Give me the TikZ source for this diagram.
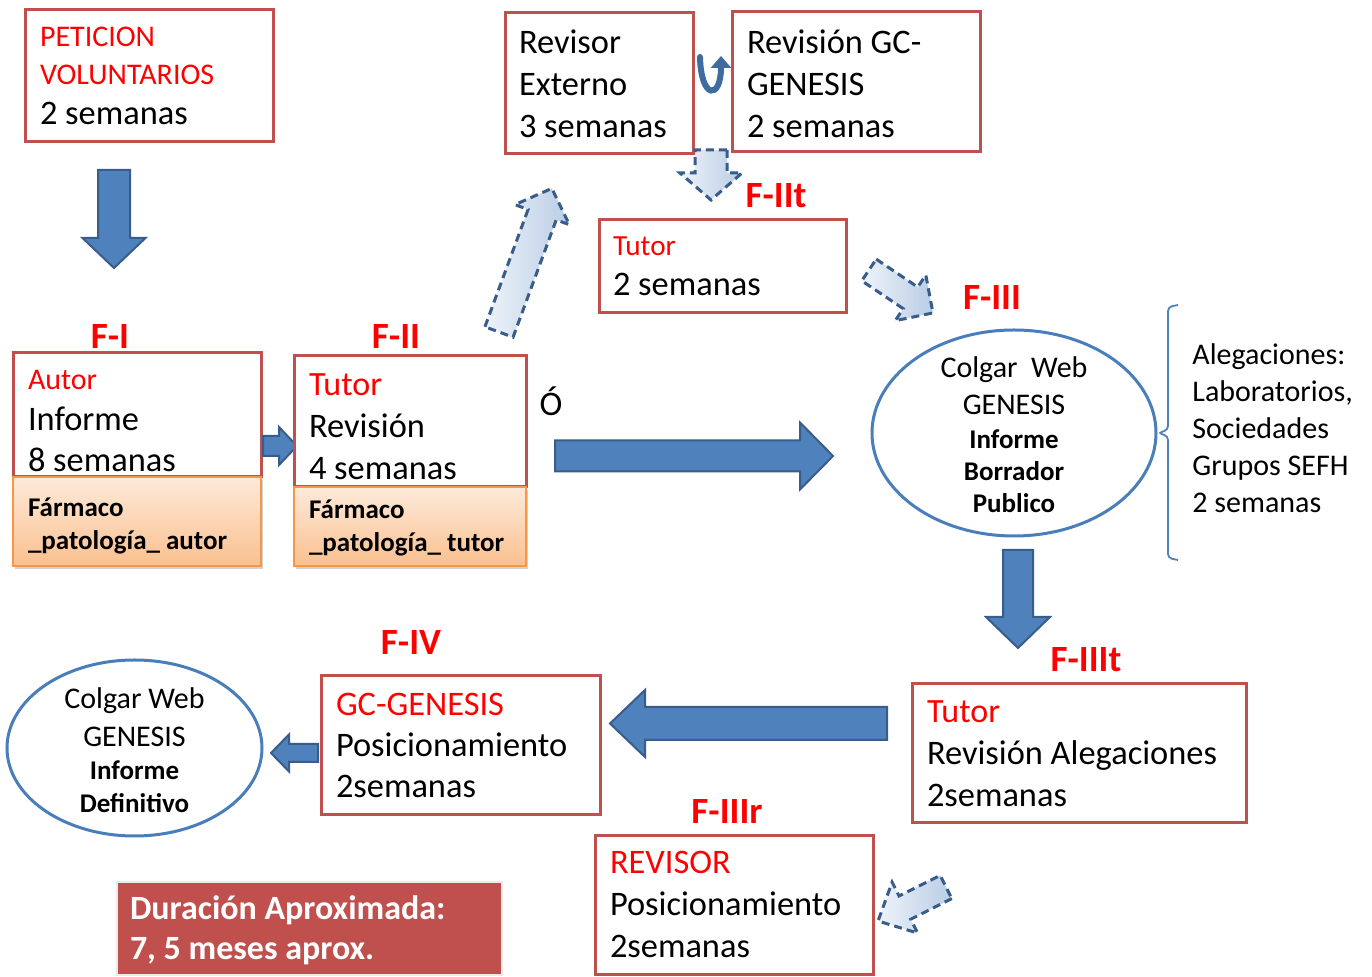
\documentclass[tikz,border=0pt]{standalone}
\usepackage{fontspec}
\setmainfont{Carlito}
\usetikzlibrary{shapes.geometric,shadows,arrows.meta}
\definecolor{boxred}{HTML}{C0504D}
\definecolor{txtred}{HTML}{FF0000}
\definecolor{arrblue}{HTML}{4F81BD}
\definecolor{arrdark}{HTML}{385D8A}
\definecolor{ellblue}{HTML}{4A7EBB}
\definecolor{orbord}{HTML}{F79646}
\definecolor{ortop}{HTML}{FDEADA}
\definecolor{orbot}{HTML}{FAC08F}
\definecolor{dashA}{HTML}{EEF3FA}
\definecolor{dashB}{HTML}{B9CDE5}
\newcommand{\rtx}[2]{{\color{txtred}\fontsize{#1}{18}\selectfont #2}}
\newcommand{\ptext}[2]{\parbox[t]{#1}{\raggedright\leavevmode #2}}
\newcommand{\ctext}[2]{\parbox[t]{#1}{\centering\leavevmode #2}}
\newcommand{\blkarrow}[8]{%
  \begin{scope}[shift={(#2,#3)},rotate=#4]
    \path[#1] (0,{-#6/2}) -- ({#5-#8},{-#6/2}) -- ({#5-#8},{-#7/2}) -- (#5,0)
      -- ({#5-#8},{#7/2}) -- ({#5-#8},{#6/2}) -- (0,{#6/2}) -- cycle;
  \end{scope}}
\tikzset{
  box/.style={draw=boxred, line width=1.5pt, fill=white, rectangle,
    inner xsep=7.5pt, inner ysep=0pt},
  bxd/.style n args={3}{minimum width=#1, minimum height=#2, text height=0pt, text depth=#3},
  orbox/.style={draw=orbord, line width=1pt, top color=ortop, bottom color=orbot,
    rectangle, inner xsep=7.5pt, inner ysep=0pt,
    drop shadow={shadow xshift=1pt, shadow yshift=-1.5pt, opacity=0.35},
    font=\bfseries\fontsize{13.5}{16.5}\selectfont},
  ell/.style={draw=ellblue, line width=1.5pt, ellipse, fill=white, inner sep=0pt,
    text height=0pt},
  flab/.style={text=txtred, font=\bfseries\fontsize{18.5}{20}\selectfont, inner sep=0pt},
  solidarr/.style={fill=arrblue, draw=arrdark, line width=1pt, line join=miter},
  dasharr/.style={left color=dashA, right color=dashB, draw=arrdark, line width=1.5pt,
    dash pattern=on 4pt off 2.5pt},
  uarr/.style={draw=ellblue!85!black, line width=3pt, line cap=round,
    -{Triangle[width=10pt,length=6pt]}},
  brace/.style={draw=arrblue, line width=0.9pt, rounded corners=2pt},
  durbox/.style={fill=boxred, draw=black!8, line width=1pt, text=white, rectangle,
    inner xsep=6.5pt, inner ysep=0pt,
    font=\bfseries\fontsize{17}{20}\selectfont}
}
\begin{document}
\begin{tikzpicture}[x=0.5pt,y=-0.5pt]
\useasboundingbox[fill=white] (0,0) rectangle (1372,977);

% ---- top-left
\node[box, bxd={124pt}{66pt}{29pt}, font=\fontsize{17.2}{19}\selectfont] (pet) at (149,76)
  {\ptext{109pt}{\rtx{15}{PETICION}\\\rtx{15}{VOLUNTARIOS}\\[0.7pt]2 semanas}};
\blkarrow{solidarr}{114}{170}{-90}{98}{32}{63}{30}

% ---- F-I
\node[flab] (lI) at (110,337) {F-I};
\node[box, bxd={124pt}{62pt}{25pt}, font=\fontsize{17.2}{20.3}\selectfont] (autor) at (137,415)
  {\ptext{109pt}{\rtx{15}{Autor}\\Informe\\8 semanas}};
\node[orbox, bxd={124pt}{44.5pt}{5pt}] (farI) at (137,521.5)
  {\ptext{109pt}{Fármaco\\\_patología\_ autor}};
\blkarrow{solidarr}{263}{446}{0}{34}{20}{38}{18}

% ---- F-II
\node[flab] (lII) at (396,337) {F-II};
\node[box, bxd={116pt}{65.5pt}{25.5pt}, font=\fontsize{17.2}{20.8}\selectfont] (tutII) at (410,421.5)
  {\ptext{101pt}{\rtx{17}{Tutor}\\Revisión\\4 semanas}};
\node[orbox, bxd={116pt}{39.5pt}{7.5pt}] (farII) at (410,526.5)
  {\ptext{101pt}{Fármaco\\\_patología\_ tutor}};
\blkarrow{dasharr}{499}{332}{69.8}{153}{30}{58}{28}
\node[font=\fontsize{17.2}{20}\selectfont, inner sep=0pt] (o) at (551,401) {Ó};
\blkarrow{solidarr}{555}{456}{0}{278}{31}{67}{33}

% ---- top middle
\node[box, bxd={94pt}{70.5pt}{29.5pt}, inner xsep=7pt, font=\fontsize{17.2}{20.8}\selectfont] (revext) at (599,83.5)
  {\ptext{80pt}{Revisor\\Externo\\3 semanas}};
\node[box, bxd={124pt}{70pt}{28pt}, font=\fontsize{17.2}{20.8}\selectfont] (revgc) at (856,82)
  {\ptext{109pt}{Revisión GC-\\GENESIS\\2 semanas}};
\draw[uarr] (700,57) .. controls (701,100) and (721,100) .. (721,56);
\blkarrow{dasharr}{711}{150}{-90}{50}{32}{62}{27}
\node[flab] (lIIt) at (776,196) {F-IIt};
\node[box, bxd={123.5pt}{46.5pt}{10.5pt}, inner xsep=7pt, font=\fontsize{17.2}{20}\selectfont] (tutIIt) at (722.5,266.5)
  {\ptext{109.5pt}{\rtx{14.6}{Tutor}\\2 semanas}};
\blkarrow{dasharr}{869}{270}{-33.9}{77}{26}{55}{27}

% ---- F-III
\node[flab] (lIII) at (992,298) {F-III};
\node[ell, minimum width=142pt, minimum height=103pt, text depth=55pt,
  font=\fontsize{15}{16}\selectfont] (e3) at (1014,433)
  {\ctext{80pt}{Colgar\ \ Web\\[2.5pt]GENESIS\\[1pt]{\bfseries\fontsize{13.5}{16}\selectfont Informe}\\
   {\bfseries\fontsize{13.5}{16}\selectfont Borrador}\\{\bfseries\fontsize{13.5}{16}\selectfont Publico}}};
\draw[brace] (1178,305) -- (1168,307) -- (1168,430) -- (1158,433) -- (1168,436) -- (1168,558) -- (1178,560);
\node[anchor=west, align=left, inner sep=0pt, font=\fontsize{15}{18.5}\selectfont] (aleg) at (1192,428)
  {Alegaciones:\\Laboratorios,\\Sociedades\\Grupos SEFH\\2 semanas};
\blkarrow{solidarr}{1018}{550}{-90}{98}{30}{64}{31}

% ---- F-IIIt
\node[flab] (lIIIt) at (1086,660) {F-IIIt};
\node[box, bxd={167pt}{69.5pt}{30.5pt}, font=\fontsize{17.2}{20.8}\selectfont] (tutIIIt) at (1079,753.5)
  {\ptext{152pt}{\rtx{17}{Tutor}\\Revisión Alegaciones\\2semanas}};
\blkarrow{solidarr}{887}{723.5}{180}{277}{33}{67}{35}

% ---- F-IV
\node[flab] (lIV) at (411,643) {F-IV};
\node[box, bxd={139.5pt}{69.5pt}{29.5pt}, font=\fontsize{17.2}{20.5}\selectfont] (gcgen) at (460.5,745.5)
  {\ptext{124.5pt}{\rtx{17.2}{GC-GENESIS}\\Posicionamiento\\2semanas}};
\blkarrow{solidarr}{318}{753}{180}{47}{18}{37}{18}
\node[ell, minimum width=127.5pt, minimum height=88pt, text depth=39pt,
  font=\fontsize{15}{16.5}\selectfont] (e4) at (134.5,748)
  {\ctext{80pt}{Colgar Web\\[2.5pt]GENESIS\\{\bfseries\fontsize{13.5}{16.5}\selectfont Informe}\\
   {\bfseries\fontsize{13.5}{16.5}\selectfont Definitivo}}};

% ---- F-IIIr
\node[flab] (lIIIr) at (727,812) {F-IIIr};
\node[box, bxd={139pt}{69.5pt}{31.5pt}, font=\fontsize{17.2}{20.8}\selectfont] (revisor) at (734,905.5)
  {\ptext{124pt}{\rtx{17.2}{REVISOR}\\Posicionamiento\\2semanas}};
\blkarrow{dasharr}{946}{887}{-153.4}{76}{26}{57}{30}

% ---- duration
\node[durbox, bxd={192.5pt}{46.5pt}{8.5pt}] (dur) at (309.5,928.5)
  {\ptext{179.5pt}{Duración Aproximada:\\7, 5 meses aprox.}};
\end{tikzpicture}
\end{document}
